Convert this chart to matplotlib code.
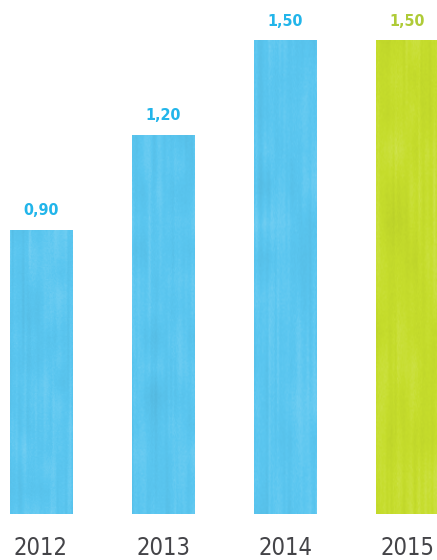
import numpy as np
import matplotlib
matplotlib.use("Agg")
import matplotlib.pyplot as plt
from matplotlib.colors import to_rgb

years = ["2012", "2013", "2014", "2015"]
values = [0.90, 1.20, 1.50, 1.50]
labels = ["0,90", "1,20", "1,50", "1,50"]

BLUE = "#5AC6F0"; BLUE_TXT = "#22B5EA"
GREEN = "#C6DD2C"; GREEN_TXT = "#AFCB38"
INK = "#444448"
bar_cols = [BLUE, BLUE, BLUE, GREEN]
txt_cols = [BLUE_TXT, BLUE_TXT, BLUE_TXT, GREEN_TXT]


def smooth_noise(rng, ny, nx, h, w):
    """coarse noise grid stretched to h x w with linear interpolation"""
    g = rng.normal(0, 1, (ny, nx))
    yi = np.linspace(0, ny - 1, h)
    xi = np.linspace(0, nx - 1, w)
    rows = np.array([np.interp(xi, np.arange(nx), r) for r in g])
    return np.array([np.interp(yi, np.arange(ny), col) for col in rows.T]).T


fig = plt.figure(figsize=(4.37, 5.6), dpi=100)
ax = fig.add_axes([0, 46 / 560, 1, 514 / 560])
x = np.arange(len(years))
bars = ax.bar(x, values, width=0.51, color=bar_cols, zorder=2)
ax.set_xlim(-41 / 122, 396 / 122)
ax.set_ylim(0, 514 / 316)

# soft watercolour wash: faint vertical streaks, mostly lighter than the base
rng = np.random.default_rng(3)
for b, c in zip(bars, bar_cols):
    h, w = 240, 60
    t = (0.45 * smooth_noise(rng, 4, 30, h, w)
         + 0.45 * smooth_noise(rng, 14, 6, h, w)
         + 0.2 * rng.normal(0, 1, (h, w)))
    base = np.array(to_rgb(c))
    light = np.clip(t, 0, None)[..., None] * 0.10
    dark = np.clip(-t, 0, None)[..., None] * 0.03
    img = base + light * (1 - base) - dark * base
    x0, y0 = b.get_x(), b.get_y()
    im = ax.imshow(np.clip(img, 0, 1),
                   extent=[x0, x0 + b.get_width(), y0, y0 + b.get_height()],
                   aspect="auto", interpolation="bilinear", zorder=3)
    im.set_clip_path(b)

for xi, v, s, tc in zip(x, values, labels, txt_cols):
    ax.annotate(s, (xi, v), xytext=(0, 19), textcoords="offset pixels",
                ha="center", va="center", fontsize=11.5, fontweight="bold",
                fontstretch="condensed", color=tc)
    ax.annotate(years[xi], (xi, 0), xytext=(0, -34), textcoords="offset pixels",
                ha="center", va="center", fontsize=17,
                fontstretch="condensed", color=INK)

ax.set_xticks([])
ax.set_yticks([])
for sp in ax.spines.values():
    sp.set_visible(False)

fig.savefig("out.png", dpi=100, facecolor="white")
